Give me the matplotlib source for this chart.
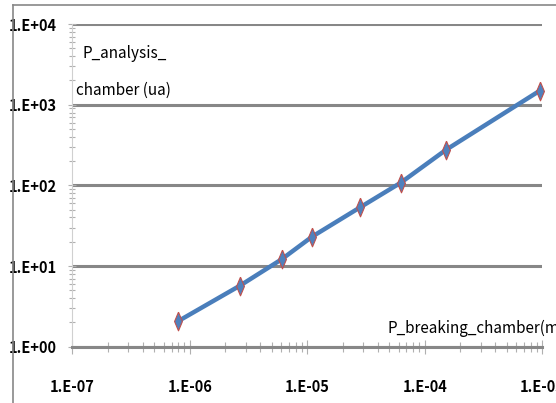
import numpy as np
import matplotlib
matplotlib.use('Agg')
import matplotlib.pyplot as plt
from matplotlib.lines import Line2D
from matplotlib.ticker import LogLocator, FixedLocator, NullFormatter

# values
p_breaking = [8.0e-7, 2.67e-6, 6.05e-6, 1.10e-5, 2.81e-5, 6.27e-5, 1.51e-4, 9.55e-4]
p_analysis = [2.08, 5.7, 12.1, 23.1, 53.2, 108, 274, 1490]

x_ticks = [1e-7, 1e-6, 1e-5, 1e-4, 1e-3]
x_labels = ['1.E-07', '1.E-06', '1.E-05', '1.E-04', '1.E-03']
y_ticks = [1e0, 1e1, 1e2, 1e3, 1e4]
y_labels = ['1.E+00', '1.E+01', '1.E+02', '1.E+03', '1.E+04']

# narrow-ish latin glyphs (closest thing to the condensed Calibri of the original)
plt.rcParams['font.family'] = ['Noto Sans CJK JP', 'Liberation Sans', 'DejaVu Sans']

grid_col = '#878787'
tick_col = '#b0b0b0'

fig = plt.figure(figsize=(5.56, 4.03), dpi=100)
ax = fig.add_axes([0.130, 0.1397, 0.845, 0.8007])

# outer chart frame (only left and top edges fall inside the picture)
fig.add_artist(Line2D([13/556, 13/556], [0, 1 - 5/403], color=grid_col, lw=1.2,
                      transform=fig.transFigure))
fig.add_artist(Line2D([13/556, 1], [1 - 5/403, 1 - 5/403], color=grid_col, lw=1.2,
                      transform=fig.transFigure))

diamond = [(0, 1), (0.42, 0), (0, -1), (-0.42, 0), (0, 1)]
ax.plot(p_breaking, p_analysis, color='#4a7ebb', lw=3.2, marker=diamond,
        markersize=13.5, markerfacecolor='#4f81bd', markeredgecolor='#c0504d',
        markeredgewidth=0.8, zorder=5, clip_on=False)

ax.set_xscale('log')
ax.set_yscale('log')
ax.set_xlim(1e-7, 1e-3)
ax.set_ylim(1, 1e4)

ax.xaxis.set_major_locator(FixedLocator(x_ticks))
ax.set_xticklabels(x_labels)
ax.yaxis.set_major_locator(FixedLocator(y_ticks))
ax.set_yticklabels(y_labels)
ax.xaxis.set_minor_locator(LogLocator(base=10, subs=np.arange(2, 10), numticks=20))
ax.yaxis.set_minor_locator(LogLocator(base=10, subs=np.arange(2, 10), numticks=20))
ax.xaxis.set_minor_formatter(NullFormatter())
ax.yaxis.set_minor_formatter(NullFormatter())

for lab in ax.get_xticklabels() + ax.get_yticklabels():
    lab.set_fontweight('bold')
    lab.set_fontsize(10.5)

ax.tick_params(axis='x', which='major', direction='inout', length=10, width=0.8,
               color=tick_col, pad=18)
ax.tick_params(axis='x', which='minor', direction='inout', length=7, width=0.8,
               color=tick_col)
ax.tick_params(axis='y', which='major', direction='inout', length=6, width=0.8,
               color=tick_col, pad=8)
ax.tick_params(axis='y', which='minor', direction='inout', length=5, width=0.8,
               color=tick_col)

ax.yaxis.grid(True, which='major', color=grid_col, lw=2.2)
ax.set_axisbelow(True)

for s in ['top', 'right']:
    ax.spines[s].set_visible(False)
ax.spines['left'].set_color('#d0d0d0')
ax.spines['left'].set_linewidth(0.8)
ax.spines['bottom'].set_color(grid_col)
ax.spines['bottom'].set_linewidth(2.2)

ax.text(0.021, 0.895, 'P_analysis_', transform=ax.transAxes,
        fontsize=11, va='baseline', ha='left')
ax.text(0.008, 0.780, 'chamber (ua)', transform=ax.transAxes,
        fontsize=11, va='baseline', ha='left')
ax.text(0.672, 0.043, 'P_breaking_chamber(mbar)', transform=ax.transAxes,
        fontsize=11, va='baseline', ha='left', clip_on=False)

fig.savefig('out.png', dpi=100)
